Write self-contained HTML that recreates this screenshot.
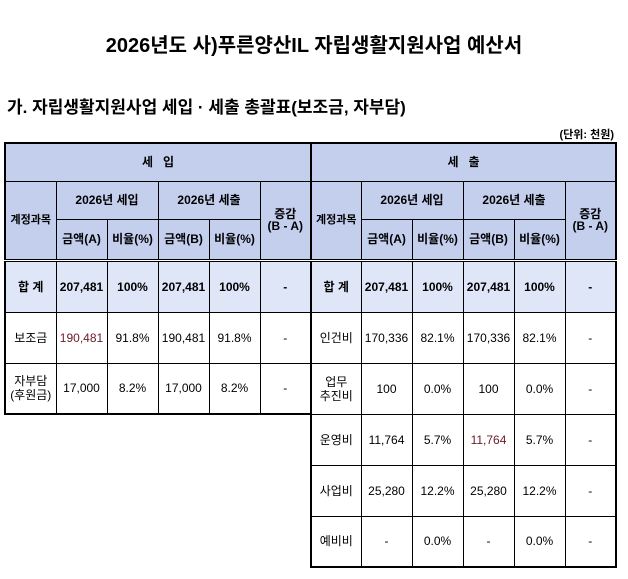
<!DOCTYPE html>
<html><head><meta charset="utf-8"><style>
body{margin:0;width:628px;height:579px;background:#fff;position:relative;font-family:"Liberation Sans","Noto Sans CJK KR",sans-serif;color:#000;overflow:hidden}
.t{position:absolute;white-space:nowrap}
table{position:absolute;border-collapse:collapse;table-layout:fixed;border:2px solid #000;font-size:12px}
td{border:1px solid #000;text-align:center;vertical-align:middle;padding:0;line-height:14px;overflow:hidden}
.h td{background:#c4cfee;font-weight:bold}
tr.s td{background:#dfe6f7;font-weight:bold;border-top:3px double #000}
.r{color:#6b1a2a}
</style></head><body>
<div class="t" style="left:0;width:628px;text-align:center;top:29px;font-size:20px;font-weight:bold">2026년도 사)푸른양산IL 자립생활지원사업 예산서</div>
<div class="t" style="left:7px;top:93px;font-size:17px;font-weight:bold">가. 자립생활지원사업 세입 · 세출 총괄표(보조금, 자부담)</div>
<div class="t" style="right:14px;top:126px;font-size:11px;font-weight:bold">(단위: 천원)</div>

<table style="left:4px;top:142px;width:306px">
<colgroup><col style="width:51px"><col style="width:51px"><col style="width:51px"><col style="width:51px"><col style="width:51px"><col style="width:51px"></colgroup>
<tr class="h" style="height:38px"><td colspan="6">세&nbsp;&nbsp;&nbsp;입</td></tr>
<tr class="h" style="height:38px"><td rowspan="2" style="font-size:11px">계정과목</td><td colspan="2">2026년 세입</td><td colspan="2">2026년 세출</td><td rowspan="2" style="line-height:12px">증감<br>(B - A)</td></tr>
<tr class="h" style="height:41px"><td>금액(A)</td><td>비율(%)</td><td>금액(B)</td><td>비율(%)</td></tr>
<tr class="s" style="height:52px"><td>합 계</td><td>207,481</td><td>100%</td><td>207,481</td><td>100%</td><td>-</td></tr>
<tr style="height:51px"><td>보조금</td><td class="r">190,481</td><td>91.8%</td><td>190,481</td><td>91.8%</td><td>-</td></tr>
<tr style="height:51px"><td>자부담<br>(후원금)</td><td>17,000</td><td>8.2%</td><td>17,000</td><td>8.2%</td><td>-</td></tr>
</table>

<table style="left:310px;top:142px;width:305px">
<colgroup><col style="width:50px"><col style="width:51px"><col style="width:51px"><col style="width:51px"><col style="width:51px"><col style="width:51px"></colgroup>
<tr class="h" style="height:38px"><td colspan="6">세&nbsp;&nbsp;&nbsp;출</td></tr>
<tr class="h" style="height:38px"><td rowspan="2" style="font-size:11px">계정과목</td><td colspan="2">2026년 세입</td><td colspan="2">2026년 세출</td><td rowspan="2" style="line-height:12px">증감<br>(B - A)</td></tr>
<tr class="h" style="height:41px"><td>금액(A)</td><td>비율(%)</td><td>금액(B)</td><td>비율(%)</td></tr>
<tr class="s" style="height:52px"><td>합 계</td><td>207,481</td><td>100%</td><td>207,481</td><td>100%</td><td>-</td></tr>
<tr style="height:51px"><td>인건비</td><td>170,336</td><td>82.1%</td><td>170,336</td><td>82.1%</td><td>-</td></tr>
<tr style="height:51px"><td>업무<br>추진비</td><td>100</td><td>0.0%</td><td>100</td><td>0.0%</td><td>-</td></tr>
<tr style="height:51px"><td>운영비</td><td>11,764</td><td>5.7%</td><td class="r">11,764</td><td>5.7%</td><td>-</td></tr>
<tr style="height:51px"><td>사업비</td><td>25,280</td><td>12.2%</td><td>25,280</td><td>12.2%</td><td>-</td></tr>
<tr style="height:51px"><td>예비비</td><td>-</td><td>0.0%</td><td>-</td><td>0.0%</td><td>-</td></tr>
</table>
</body></html>
